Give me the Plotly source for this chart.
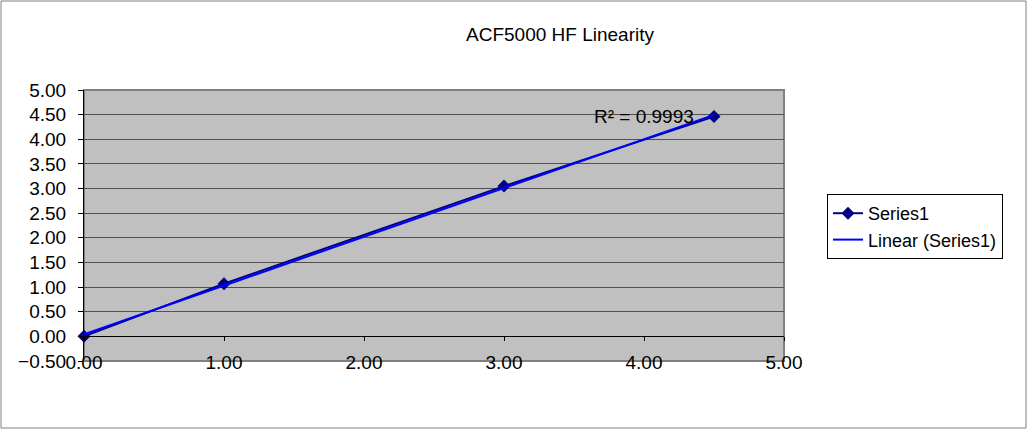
import numpy as np
import plotly.graph_objects as go

x_vals = [0.0, 1.0, 3.0, 4.5]
y_vals = [0.0, 1.07, 3.05, 4.46]
r2_label = "R² = 0.9993"
tick_vals = [0.0, 0.5, 1.0, 1.5, 2.0, 2.5, 3.0, 3.5, 4.0, 4.5, 5.0]

# linear trendline like Excel's
slope, intercept = np.polyfit(x_vals, y_vals, 1)
trend_x = [min(x_vals), max(x_vals)]
trend_y = [slope * v + intercept for v in trend_x]

W, H = 1028, 430
ml, mr, mt, mb = 84, 244, 90, 69
pw, ph = W - ml - mr, H - mt - mb

def px(x):
    return (x - ml) / pw

def py(y):
    return (H - mb - y) / ph

font = dict(family="Liberation Sans, Arial, sans-serif", size=19, color="black")
legend_font = dict(family="Liberation Sans, Arial, sans-serif", size=18, color="black")

fig = go.Figure()

fig.add_trace(go.Scatter(
    x=x_vals, y=y_vals, mode='lines+markers', name='Series1',
    line=dict(color='#000080', width=2),
    marker=dict(symbol='diamond', size=10, color='#000080'),
    cliponaxis=False
))

fig.add_trace(go.Scatter(
    x=trend_x, y=trend_y, mode='lines', name='Linear (Series1)',
    line=dict(color='#0000FF', width=2),
    cliponaxis=False
))

fig.add_annotation(
    x=3.63, y=4.47, text=r2_label, showarrow=False,
    xanchor='left', yanchor='middle', font=font
)

# x axis crosses at y = 0
y0_pos = 0.5 / 5.5

fig.update_layout(
    width=W, height=H,
    margin=dict(l=ml, r=mr, t=mt, b=mb),
    paper_bgcolor='white',
    plot_bgcolor='#C0C0C0',
    font=font,
    title=dict(text='ACF5000 HF Linearity', x=px(560), xref='paper', xanchor='center',
               y=1 - 34 / H, yanchor='middle', font=font),
    xaxis=dict(range=[0, 5], tickvals=tick_vals[::2], tickformat='.2f',
               showgrid=False, zeroline=False,
               showline=True, linecolor='black', linewidth=1,
               ticks='outside', ticklen=4, tickcolor='black',
               anchor='free', position=y0_pos, ticklabelstandoff=5,
               tickfont=font),
    yaxis=dict(range=[-0.5, 5], tickvals=[-0.5] + tick_vals, tickformat='.2f',
               showgrid=True, gridcolor='#505050', gridwidth=1, zeroline=False,
               showline=True, linecolor='black', linewidth=1,
               ticks='outside', ticklen=5, tickcolor='black',
               ticklabelstandoff=8, tickfont=font),
    legend=dict(x=px(827), y=py(194), xanchor='left', yanchor='top',
                bgcolor='white', bordercolor='black', borderwidth=1,
                font=legend_font, tracegroupgap=4),
    showlegend=True,
    shapes=[
        # plot area border
        dict(type='rect', xref='paper', yref='paper', x0=0, x1=1, y0=0, y1=1,
             line=dict(color='#808080', width=2), layer='below'),
        # chart area border
        dict(type='rect', xref='paper', yref='paper',
             x0=px(1), x1=px(W - 2), y0=py(H - 2), y1=py(1),
             line=dict(color='#808080', width=1)),
    ],
)

fig.write_html("out.html", config={'displayModeBar': False},
               post_script="document.body.style.margin='0';")
